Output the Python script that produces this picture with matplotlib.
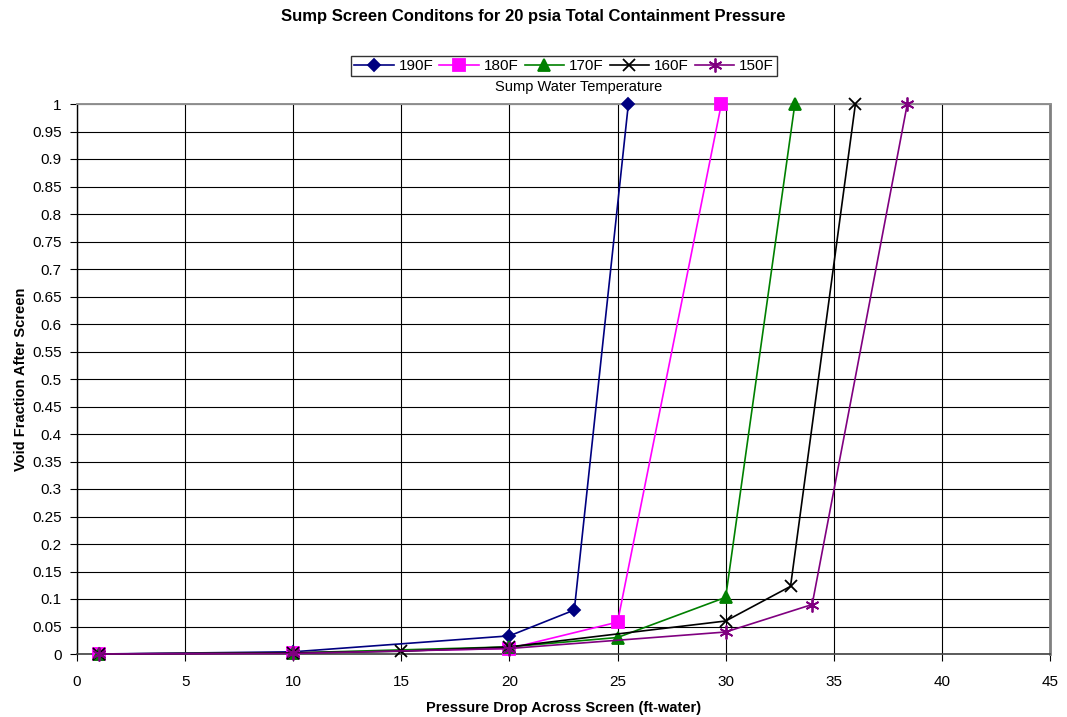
import matplotlib
matplotlib.use("Agg")
import matplotlib.pyplot as plt
import numpy as np

plt.rcParams['font.family'] = ['Liberation Sans', 'DejaVu Sans']

# Pressure drop (ft-water) and void fraction for each sump water temperature
x_190 = [1, 10, 20, 23, 25.5]
y_190 = [0.0, 0.004, 0.033, 0.08, 1.0]

x_180 = [1, 10, 20, 25, 29.8]
y_180 = [0.0, 0.002, 0.010, 0.058, 1.0]

x_170 = [1, 10, 20, 25, 30, 33.2]
y_170 = [0.0, 0.002, 0.013, 0.030, 0.103, 1.0]

x_160 = [1, 10, 15, 20, 30, 33, 36]
y_160 = [0.0, 0.002, 0.005, 0.013, 0.060, 0.123, 1.0]

x_150 = [1, 10, 20, 30, 34, 38.4]
y_150 = [0.0, 0.001, 0.010, 0.040, 0.090, 1.0]

labels = ['190F', '180F', '170F', '160F', '150F']
colors = ['#000080', '#FF00FF', '#008000', '#000000', '#800080']
markers = ['D', 's', '^', 'x', (6, 2, 0)]
sizes = [6.5, 8.5, 9, 9, 10]

xticks = list(range(0, 46, 5))
yticks = [round(v, 2) for v in np.arange(0, 1.0001, 0.05)]

fig = plt.figure(figsize=(10.67, 7.17), dpi=100)
ax = fig.add_axes([77 / 1067, 1 - 654 / 717, (1050 - 77) / 1067, (654 - 104) / 717])

series = [(x_190, y_190), (x_180, y_180), (x_170, y_170), (x_160, y_160), (x_150, y_150)]
handles = []
for (xs, ys), lab, c, m, s in zip(series, labels, colors, markers, sizes):
    h, = ax.plot(xs, ys, color=c, lw=1.2, marker=m, markersize=s,
                 markerfacecolor=c, markeredgecolor=c, markeredgewidth=1.3,
                 label=lab, clip_on=False, zorder=3)
    handles.append(h)

ax.set_xlim(0, 45)
ax.set_ylim(0, 1)
ax.set_xticks(xticks)
ax.set_yticks(yticks)
ax.set_yticklabels(['0' if v == 0 else ('1' if v == 1 else f'{v:g}') for v in yticks])
ax.grid(True, color='black', lw=0.8)
ax.set_axisbelow(True)
ax.tick_params(labelsize=11, length=5, width=0.8, color='black')
ax.tick_params(axis='x', pad=10)
ax.tick_params(axis='y', pad=6)
ax.spines['left'].set_color('black')
ax.spines['left'].set_linewidth(1.0)
ax.spines['bottom'].set_color('#404040')
ax.spines['bottom'].set_linewidth(1.2)
ax.spines['top'].set_color('#909090')
ax.spines['top'].set_linewidth(1.4)
ax.spines['right'].set_color('#808080')
ax.spines['right'].set_linewidth(2.0)

ax.set_xlabel('Pressure Drop Across Screen (ft-water)', fontsize=10.5, fontweight='bold', labelpad=9)
ax.set_ylabel('Void Fraction After Screen', fontsize=10.5, fontweight='bold', labelpad=3)

fig.text(0.5, 1 - 17 / 717, 'Sump Screen Conditons for 20 psia Total Containment Pressure',
         ha='center', va='center', fontsize=12, fontweight='bold')

leg = fig.legend(handles=handles, loc='center', bbox_to_anchor=(564 / 1067, 1 - 66 / 717),
                 ncol=5, fontsize=11, frameon=True, fancybox=False, edgecolor='black',
                 handlelength=2.6, handletextpad=0.3, columnspacing=0.4,
                 borderpad=0.2, borderaxespad=0)
leg.get_frame().set_linewidth(1.0)
fig.text(579 / 1067, 1 - 87 / 717, 'Sump Water Temperature', ha='center', va='center', fontsize=10.5)

fig.savefig('out.png', dpi=100)
